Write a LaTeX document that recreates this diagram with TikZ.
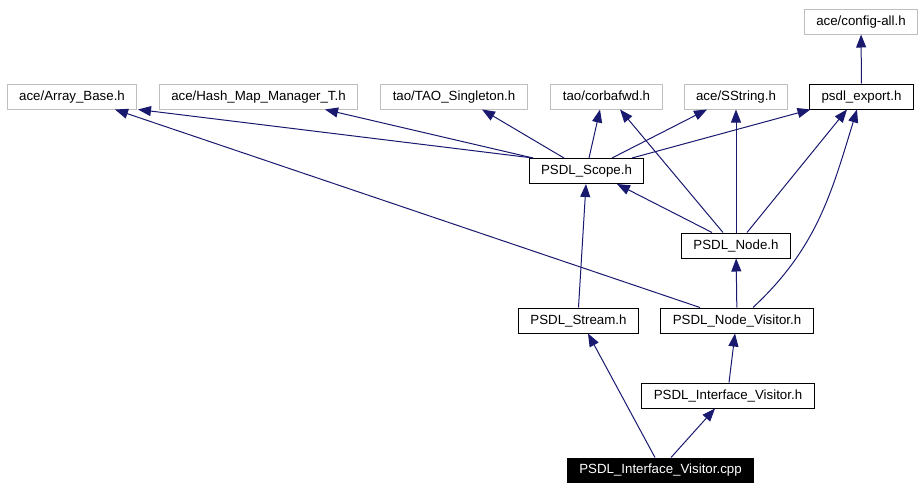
\documentclass[tikz,border=0pt]{standalone}
\usepackage{fontspec}
\setmainfont{Liberation Sans}
\usepackage{tikz}
\usetikzlibrary{shapes,arrows.meta}
\definecolor{edgeblue}{HTML}{191970}
\definecolor{extgray}{HTML}{BFBFBF}
\tikzstyle{header} = [rectangle, draw=black, line width=1pt, fill=white, inner xsep=12pt, inner ysep=0pt, text height=10pt, text depth=3pt, minimum height=25pt, font=\fontsize{13.3}{16}\selectfont]
\tikzstyle{extern} = [header, draw=extgray]
\tikzstyle{source} = [header, fill=black, text=white, minimum height=24pt]
\tikzstyle{line} = [draw=edgeblue, line width=1pt, -{Triangle[length=13pt,width=10pt]}]

\begin{document}
\begin{tikzpicture}[x=1pt,y=-1pt]
					\useasboundingbox (0,0) rectangle (924,490);
					\node[extern] (configall) at (861,21.5) {ace/config-all.h};
					\node[extern] (arraybase) at (72,96.5) {ace/Array\_Base.h};
					\node[extern] (hashmap) at (258.5,96.5) {ace/Hash\_Map\_Manager\_T.h};
					\node[extern] (singleton) at (454,96.5) {tao/TAO\_Singleton.h};
					\node[extern] (corbafwd) at (606.5,96.5) {tao/corbafwd.h};
					\node[extern] (sstring) at (736,96.5) {ace/SString.h};
					\node[header] (export) at (861.5,96.5) {psdl\_export.h};
					\node[header] (scope) at (586.5,171) {PSDL\_Scope.h};
					\node[header] (psdlnode) at (736,245.5) {PSDL\_Node.h};
					\node[header] (stream) at (578.5,320.5) {PSDL\_Stream.h};
					\node[header] (nodevisitor) at (737,320.5) {PSDL\_Node\_Visitor.h};
					\node[header] (ifacevisitor) at (728,395.5) {PSDL\_Interface\_Visitor.h};
					\node[source] (cpp) at (660.5,470) {PSDL\_Interface\_Visitor.cpp};

					\path[line] (export) -- (configall);
					\path[line] ([xshift=-53.5pt]scope.north) -- ([xshift=66pt]arraybase.south);
					\path[line] ([xshift=-53.5pt]scope.north) -- ([xshift=66.5pt]hashmap.south);
					\path[line] ([xshift=-22.5pt]scope.north) -- ([xshift=28pt]singleton.south);
					\path[line] ([xshift=2.5pt]scope.north) -- ([xshift=-6.5pt]corbafwd.south);
					\path[line] ([xshift=25.5pt]scope.north) -- ([xshift=-29pt]sstring.south);
					\path[line] ([xshift=45.5pt]scope.north) -- ([xshift=-51pt]export.south);
					\path[line] ([xshift=-24pt]psdlnode.north) -- ([xshift=30.5pt]scope.south);
					\path[line] ([xshift=-13pt]psdlnode.north) -- ([xshift=13.5pt]corbafwd.south);
					\path[line] (psdlnode.north) -- (sstring.south);
					\path[line] ([xshift=11pt]psdlnode.north) -- ([xshift=-14.5pt]export.south);
					\path[line] ([xshift=-37pt]nodevisitor.north) -- ([xshift=43pt]arraybase.south);
					\path[line] ([xshift=16pt]nodevisitor.north) to[out=43,in=253] ([xshift=-4.5pt]export.south);
					\path[line] (nodevisitor) -- (psdlnode);
					\path[line] (stream.north) -- ([xshift=-0.5pt]scope.south);
					\path[line] ([xshift=1pt]ifacevisitor.north) -- ([xshift=-2pt]nodevisitor.south);
					\path[line] ([xshift=-5.5pt]cpp.north) -- ([xshift=9.5pt]stream.south);
					\path[line] ([xshift=10.5pt]cpp.north) -- ([xshift=-13pt]ifacevisitor.south);
				\end{tikzpicture}
\end{document}
